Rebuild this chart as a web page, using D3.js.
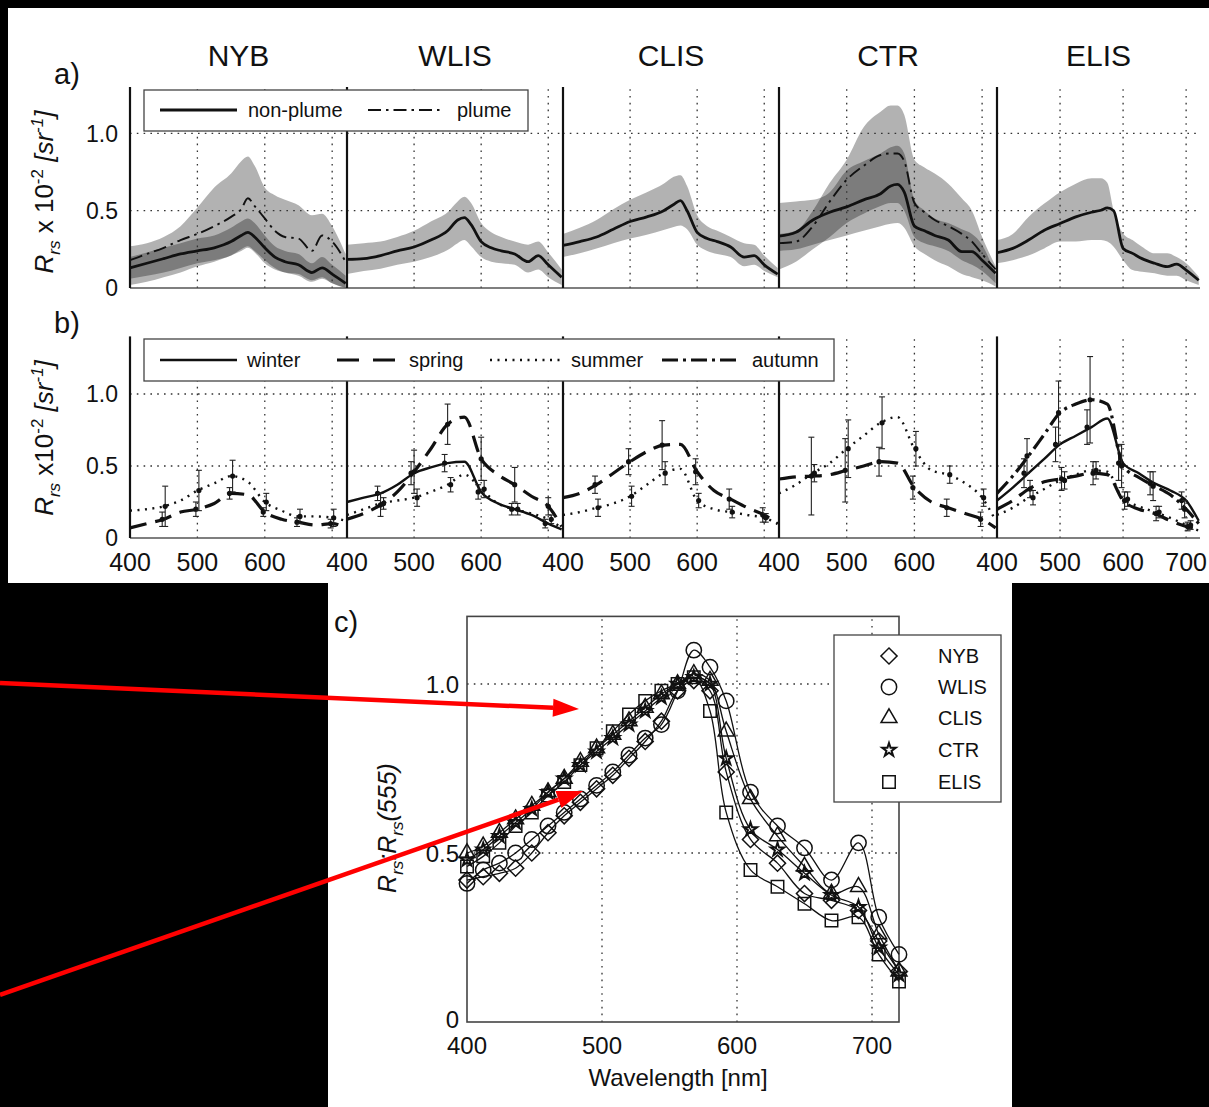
<!DOCTYPE html>
<html><head><meta charset="utf-8">
<script src="https://cdn.jsdelivr.net/npm/d3@7"></script>
<style>
html,body{margin:0;padding:0;background:#000;}
svg{display:block;}
text{font-family:"Liberation Sans",Arial,Helvetica,sans-serif;fill:#111;}
</style></head><body>
<svg id="fig" width="1209" height="1107"></svg>
<script>
// ---------- shared labels ----------
const stations = ["NYB", "WLIS", "CLIS", "CTR", "ELIS"];
const yTicksAB = [0, 0.5, 1.0];
const yTickLabelsAB = ["0", "0.5", "1.0"];
const xTicksB = [400, 500, 600, 700];

// ---------- a) mean Rrs (x10^-2 sr^-1) with spread bands ----------
const wlA = [400,425,450,475,500,525,550,565,575,585,600,615,630,650,670,685,700,720];
const nybMean    = [.13,.16,.19,.22,.24,.26,.30,.34,.36,.33,.26,.20,.17,.15,.10,.13,.09,.03];
const nybLo      = [.06,.08,.10,.13,.16,.18,.21,.25,.27,.24,.18,.13,.10,.08,.04,.06,.03,.00];
const nybHi      = [.20,.23,.26,.29,.32,.34,.39,.43,.45,.42,.34,.27,.24,.22,.16,.20,.15,.08];
const nybPlume   = [.18,.22,.26,.31,.35,.40,.46,.51,.58,.53,.45,.37,.33,.32,.24,.34,.30,.17];
const nybPlumeLo = [.02,.04,.07,.10,.14,.17,.21,.24,.26,.23,.16,.12,.10,.09,.05,.07,.03,.00];
const nybPlumeHi = [.27,.29,.33,.40,.52,.65,.74,.82,.85,.79,.65,.60,.57,.535,.47,.48,.40,.22];
const wlisMean   = [.185,.19,.21,.24,.265,.31,.37,.44,.455,.41,.30,.26,.24,.22,.17,.21,.15,.07];
const wlisLo     = [.09,.11,.125,.15,.17,.20,.245,.29,.31,.27,.20,.17,.16,.15,.10,.12,.07,.02];
const wlisHi     = [.28,.29,.30,.33,.37,.43,.49,.56,.59,.55,.42,.36,.33,.30,.28,.30,.23,.12];
const clisMean   = [.275,.30,.33,.38,.43,.46,.50,.54,.565,.50,.36,.32,.30,.265,.20,.21,.15,.09];
const clisLo     = [.20,.225,.255,.29,.32,.345,.375,.395,.405,.38,.28,.24,.22,.20,.14,.15,.11,.07];
const clisHi     = [.35,.39,.44,.51,.57,.62,.675,.72,.73,.66,.47,.40,.37,.33,.29,.28,.21,.13];
const ctrMean    = [.335,.36,.44,.49,.525,.57,.61,.66,.67,.62,.40,.37,.34,.31,.235,.235,.18,.095];
const ctrLo      = [.24,.25,.28,.31,.34,.37,.40,.415,.42,.39,.27,.22,.18,.14,.09,.07,.05,.01];
const ctrHi      = [.55,.56,.57,.62,.76,.82,.87,.91,.92,.87,.57,.50,.45,.42,.38,.35,.28,.08];
const ctrPlume   = [.29,.30,.40,.56,.70,.79,.86,.87,.87,.82,.55,.49,.44,.40,.35,.30,.22,.12];
const ctrPlumeLo = [.12,.17,.25,.33,.42,.48,.53,.55,.55,.50,.33,.29,.27,.24,.18,.15,.11,.03];
const ctrPlumeHi = [.35,.37,.50,.68,.83,1.04,1.14,1.18,1.18,1.12,.83,.78,.74,.675,.58,.50,.33,.14];
const elisMean   = [.228,.256,.31,.374,.417,.46,.49,.503,.518,.50,.256,.224,.19,.16,.138,.155,.116,.05];
const elisLo     = [.16,.18,.21,.256,.30,.30,.31,.31,.30,.267,.18,.116,.105,.095,.08,.08,.05,.02];
const elisHi     = [.31,.35,.46,.546,.62,.675,.71,.71,.68,.50,.353,.31,.267,.224,.224,.20,.16,.073];

// ---------- b) seasonal Rrs with error bars ----------
const wlB = [400,425,450,475,500,525,550,575,600,625,650,675,700,720];
const wlBars = [450,500,550,600,650,700];
const nybSpring   = [.07,.10,.13,.18,.20,.24,.31,.30,.18,.13,.11,.09,.10,.07];
const nybSummer   = [.19,.20,.22,.26,.33,.38,.43,.39,.25,.19,.15,.15,.14,.12];
const nybSpringSd = [.05,.05,.04,.03,.03,.03];
const nybSummerSd = [.14,.14,.11,.06,.05,.06];
const wlisWinter   = [.25,.28,.31,.37,.45,.49,.52,.53,.32,.24,.20,.16,.10,.06];
const wlisSpring   = [.13,.17,.23,.32,.46,.62,.79,.84,.55,.44,.37,.29,.22,.08];
const wlisSummer   = [.16,.20,.24,.26,.28,.32,.37,.44,.34,.24,.20,.17,.13,.07];
const wlisWinterSd = [.05,.08,.06,.05,.04,.03];
const wlisSpringSd = [.08,.15,.14,.15,.12,.06];
const wlisSummerSd = [.04,.06,.05,.06,.04,.03];
const clisSpring   = [.28,.31,.37,.45,.53,.60,.645,.65,.46,.33,.27,.21,.16,.10];
const clisSummer   = [.16,.18,.21,.24,.29,.37,.45,.48,.26,.20,.18,.16,.14,.10];
const clisSpringSd = [.06,.09,.17,.09,.07,.05];
const clisSummerSd = [.06,.07,.08,.05,.04,.03];
const ctrSpring    = [.41,.425,.43,.44,.47,.50,.53,.52,.35,.25,.21,.17,.13,.07];
const ctrSummer    = [.31,.37,.45,.52,.62,.71,.80,.84,.62,.47,.44,.38,.28,.12];
const ctrSpringSd  = [.27,.22,.10,.08,.06,.05];
const ctrSummerSd  = [.06,.20,.18,.12,.06,.06];
const elisWinter   = [.26,.35,.45,.55,.65,.71,.77,.83,.52,.45,.38,.33,.26,.12];
const elisSpring   = [.20,.26,.34,.39,.41,.43,.45,.44,.26,.20,.17,.12,.08,.06];
const elisSummer   = [.16,.21,.28,.34,.40,.44,.47,.46,.27,.22,.18,.14,.09,.05];
const elisAutumn   = [.31,.43,.57,.72,.87,.93,.96,.93,.50,.42,.36,.30,.20,.10];
const elisWinterSd = [.10,.12,.12,.12,.08,.06];
const elisSpringSd = [.06,.08,.08,.06,.05,.03];
const elisSummerSd = [.05,.06,.06,.05,.04,.03];
const elisAutumnSd = [.12,.22,.30,.15,.10,.06];

// ---------- c) Rrs normalised at 555 nm ----------
const wlC = [400,412,424,436,448,460,472,484,496,508,520,532,544,556,568,580,592,610,630,650,670,690,705,720];
const nybRatio  = [.42,.43,.44,.455,.50,.56,.61,.65,.69,.73,.78,.83,.89,.98,1.01,.98,.74,.54,.47,.38,.36,.33,.24,.15];
const wlisRatio = [.41,.45,.47,.50,.54,.58,.62,.66,.70,.74,.79,.84,.88,.98,1.10,1.05,.95,.68,.58,.515,.42,.53,.31,.20];
const clisRatio = [.50,.52,.56,.60,.64,.68,.72,.77,.81,.85,.89,.93,.97,1.00,1.03,1.01,.86,.66,.55,.46,.38,.40,.26,.15];
const ctrRatio  = [.48,.51,.55,.59,.63,.68,.72,.76,.80,.84,.88,.92,.96,1.00,1.02,1.00,.78,.57,.51,.44,.375,.34,.22,.14];
const elisRatio = [.46,.49,.53,.58,.62,.67,.71,.76,.81,.86,.91,.95,.98,1.00,1.02,.92,.62,.45,.40,.35,.30,.31,.20,.12];
const xTicksC = [400, 500, 600, 700];
const yTicksC = [0, 0.5, 1.0];
const yTickLabelsC = ["0", "0.5", "1.0"];

// ---------- tables built from the arrays ----------
const panelsA = [
  {mean: nybMean, lo: nybLo, hi: nybHi, plume: nybPlume, plo: nybPlumeLo, phi: nybPlumeHi},
  {mean: wlisMean, lo: wlisLo, hi: wlisHi},
  {mean: clisMean, lo: clisLo, hi: clisHi},
  {mean: ctrMean, lo: ctrLo, hi: ctrHi, plume: ctrPlume, plo: ctrPlumeLo, phi: ctrPlumeHi},
  {mean: elisMean, lo: elisLo, hi: elisHi}
];
const panelsB = [
  [{s: "spring", v: nybSpring, sd: nybSpringSd}, {s: "summer", v: nybSummer, sd: nybSummerSd}],
  [{s: "winter", v: wlisWinter, sd: wlisWinterSd}, {s: "spring", v: wlisSpring, sd: wlisSpringSd}, {s: "summer", v: wlisSummer, sd: wlisSummerSd}],
  [{s: "spring", v: clisSpring, sd: clisSpringSd}, {s: "summer", v: clisSummer, sd: clisSummerSd}],
  [{s: "spring", v: ctrSpring, sd: ctrSpringSd}, {s: "summer", v: ctrSummer, sd: ctrSummerSd}],
  [{s: "winter", v: elisWinter, sd: elisWinterSd}, {s: "autumn", v: elisAutumn, sd: elisAutumnSd},
   {s: "spring", v: elisSpring, sd: elisSpringSd}, {s: "summer", v: elisSummer, sd: elisSummerSd}]
];
const seriesC = [
  {name: "NYB", v: nybRatio, sym: "diamond"},
  {name: "WLIS", v: wlisRatio, sym: "circle"},
  {name: "CLIS", v: clisRatio, sym: "triangle"},
  {name: "CTR", v: ctrRatio, sym: "star"},
  {name: "ELIS", v: elisRatio, sym: "square"}
];

// ---------- drawing ----------
const svg = d3.select("#fig");
const ink = "#111";
const gridStyle = sel => sel.attr("stroke", "#333").attr("stroke-width", 1.3)
  .attr("stroke-dasharray", "1.6,5.2").attr("fill", "none");

// paper
svg.append("rect").attr("x", 8).attr("y", 8).attr("width", 1201).attr("height", 575).attr("fill", "#fff");
svg.append("rect").attr("x", 328).attr("y", 582).attr("width", 684).attr("height", 525).attr("fill", "#fff");

const edges = [130, 347, 563, 779, 997, 1200];
const xSub = i => d3.scaleLinear().domain([400, 722]).range([edges[i], edges[i + 1]]);
const yA = d3.scaleLinear().domain([0, 1.3]).range([288, 87]);
const yB = d3.scaleLinear().domain([0, 1.4]).range([538, 336.4]);

const seasonStyle = {
  winter: {w: 2.4, dash: null},
  spring: {w: 3.2, dash: "17,9"},
  summer: {w: 2.4, dash: "2,5.5"},
  autumn: {w: 3.2, dash: "16,5,3,5"}
};

function rotLabel(x, y, parts, size) {
  const t = svg.append("text").attr("transform", `translate(${x},${y}) rotate(-90)`)
    .attr("text-anchor", "middle").style("font-size", size + "px");
  parts.forEach(p => {
    const s = t.append("tspan").text(p.t);
    if (p.i) s.style("font-style", "italic");
    if (p.dy) s.attr("dy", p.dy);
    if (p.fs) s.style("font-size", p.fs + "px");
  });
}

function frameAB(y) {
  const g = svg.append("g");
  for (let i = 0; i < 5; i++) {
    const x = xSub(i);
    [0.5, 1.0].forEach(v => g.append("line").attr("x1", edges[i]).attr("x2", edges[i + 1])
      .attr("y1", y(v)).attr("y2", y(v)).call(gridStyle));
    [500, 600, 700].forEach(w => g.append("line").attr("x1", x(w)).attr("x2", x(w))
      .attr("y1", y.range()[0]).attr("y2", y.range()[1]).call(gridStyle));
  }
  return g;
}

function axesAB(y) {
  const top = y.range()[1], bot = y.range()[0];
  svg.append("line").attr("x1", edges[0]).attr("x2", edges[5]).attr("y1", bot).attr("y2", bot)
    .attr("stroke", "#555").attr("stroke-width", 1.6);
  for (let i = 0; i < 5; i++) {
    svg.append("line").attr("x1", edges[i]).attr("x2", edges[i]).attr("y1", top).attr("y2", bot)
      .attr("stroke", ink).attr("stroke-width", 2.2);
  }
  yTicksAB.forEach((v, k) => svg.append("text").attr("x", 118).attr("y", y(v)).attr("dy", "0.36em")
    .attr("text-anchor", "end").style("font-size", "23px").text(yTickLabelsAB[k]));
}

// ----- panel a -----
for (let i = 0; i < 5; i++) {
  const x = xSub(i), p = panelsA[i];
  const band = (lo, hi) => d3.area().x((d, k) => x(wlA[k])).y0((d, k) => yA(lo[k])).y1((d, k) => yA(hi[k]))
    .curve(d3.curveMonotoneX)(wlA);
  svg.append("path").attr("d", band(p.lo, p.hi)).attr("fill", "#000").attr("fill-opacity", 0.3);
  if (p.plume) svg.append("path").attr("d", band(p.plo, p.phi)).attr("fill", "#000").attr("fill-opacity", 0.3);
}
frameAB(yA);
for (let i = 0; i < 5; i++) {
  const x = xSub(i), p = panelsA[i];
  const line = arr => d3.line().x((d, k) => x(wlA[k])).y((d, k) => yA(arr[k])).curve(d3.curveMonotoneX)(wlA);
  svg.append("path").attr("d", line(p.mean)).attr("fill", "none").attr("stroke", ink).attr("stroke-width", 2.8);
  if (p.plume) svg.append("path").attr("d", line(p.plume)).attr("fill", "none").attr("stroke", ink)
    .attr("stroke-width", 1.9).attr("stroke-dasharray", "13,5,2.5,5");
  svg.append("text").attr("x", (edges[i] + edges[i + 1]) / 2).attr("y", 66).attr("text-anchor", "middle")
    .style("font-size", "30px").text(stations[i]);
}
axesAB(yA);
// legend a
svg.append("rect").attr("x", 144).attr("y", 90).attr("width", 384).attr("height", 41)
  .attr("fill", "#fff").attr("stroke", "#444").attr("stroke-width", 1.3);
svg.append("line").attr("x1", 160).attr("x2", 237).attr("y1", 110).attr("y2", 110).attr("stroke", ink).attr("stroke-width", 2.8);
svg.append("text").attr("x", 248).attr("y", 117).style("font-size", "20px").text("non-plume");
svg.append("line").attr("x1", 368).attr("x2", 443).attr("y1", 110).attr("y2", 110).attr("stroke", ink)
  .attr("stroke-width", 1.9).attr("stroke-dasharray", "13,5,2.5,5");
svg.append("text").attr("x", 457).attr("y", 117).style("font-size", "20px").text("plume");
svg.append("text").attr("x", 54).attr("y", 84).style("font-size", "29px").text("a)");
rotLabel(53, 192, [
  {t: "R", i: 1}, {t: "rs", i: 1, fs: 17, dy: 7}, {t: " x 10", dy: -7}, {t: "-2", fs: 17, dy: -10},
  {t: " [", dy: 10, i: 1}, {t: "sr", i: 1}, {t: "-1", fs: 17, dy: -10, i: 1}, {t: "]", dy: 10, i: 1}
], 26);

// ----- panel b -----
frameAB(yB);
for (let i = 0; i < 5; i++) {
  const x = xSub(i), ser = panelsB[i];
  ser.forEach((s, si) => {
    const st = seasonStyle[s.s];
    const path = svg.append("path")
      .attr("d", d3.line().x((d, k) => x(wlB[k])).y((d, k) => yB(s.v[k])).curve(d3.curveMonotoneX)(wlB))
      .attr("fill", "none").attr("stroke", ink).attr("stroke-width", st.w);
    if (st.dash) path.attr("stroke-dasharray", st.dash);
    const off = (si - (ser.length - 1) / 2) * 3;
    wlBars.forEach((w, k) => {
      const c = s.v[wlB.indexOf(w)], sd = s.sd[k], bx = x(w) + off;
      const g = svg.append("g").attr("stroke", "#222").attr("stroke-width", 1.1);
      g.append("line").attr("x1", bx).attr("x2", bx).attr("y1", yB(c - sd)).attr("y2", yB(c + sd));
      g.append("line").attr("x1", bx - 3).attr("x2", bx + 3).attr("y1", yB(c - sd)).attr("y2", yB(c - sd));
      g.append("line").attr("x1", bx - 3).attr("x2", bx + 3).attr("y1", yB(c + sd)).attr("y2", yB(c + sd));
      svg.append("circle").attr("cx", bx).attr("cy", yB(c)).attr("r", 2.6).attr("fill", ink);
    });
  });
  const ticks = i === 4 ? xTicksB : xTicksB.slice(0, 3);
  ticks.forEach(t => svg.append("text").attr("x", x(t)).attr("y", 571).attr("text-anchor", "middle")
    .style("font-size", "25px").text(t));
}
axesAB(yB);
// legend b
svg.append("rect").attr("x", 144).attr("y", 339).attr("width", 690).attr("height", 42)
  .attr("fill", "#fff").attr("stroke", "#444").attr("stroke-width", 1.3);
const legB = [
  {s: "winter", x1: 160, x2: 237, tx: 247},
  {s: "spring", x1: 337, x2: 400, tx: 409},
  {s: "summer", x1: 490, x2: 562, tx: 571},
  {s: "autumn", x1: 662, x2: 740, tx: 752}
];
legB.forEach(l => {
  const st = seasonStyle[l.s];
  const ln = svg.append("line").attr("x1", l.x1).attr("x2", l.x2).attr("y1", 360).attr("y2", 360)
    .attr("stroke", ink).attr("stroke-width", st.w);
  if (l.s === "spring") ln.attr("stroke-dasharray", "22,14");
  else if (st.dash) ln.attr("stroke-dasharray", st.dash);
  svg.append("text").attr("x", l.tx).attr("y", 367).style("font-size", "20px").text(l.s);
});
svg.append("text").attr("x", 54).attr("y", 333).style("font-size", "29px").text("b)");
rotLabel(53, 438, [
  {t: "R", i: 1}, {t: "rs", i: 1, fs: 17, dy: 7}, {t: " x10", dy: -7}, {t: "-2", fs: 17, dy: -10},
  {t: " [", dy: 10, i: 1}, {t: "sr", i: 1}, {t: "-1", fs: 17, dy: -10, i: 1}, {t: "]", dy: 10, i: 1}
], 26);

// ----- panel c -----
const xC = d3.scaleLinear().domain([400, 720]).range([467, 899]);
const yC = d3.scaleLinear().domain([0, 1.2]).range([1022, 616.4]);
[0.5, 1.0].forEach(v => svg.append("line").attr("x1", xC(400)).attr("x2", xC(720))
  .attr("y1", yC(v)).attr("y2", yC(v)).call(gridStyle));
[500, 600, 700].forEach(w => svg.append("line").attr("x1", xC(w)).attr("x2", xC(w))
  .attr("y1", yC(0)).attr("y2", yC(1.2)).call(gridStyle));
svg.append("rect").attr("x", xC(400)).attr("y", yC(1.2)).attr("width", xC(720) - xC(400))
  .attr("height", yC(0) - yC(1.2)).attr("fill", "none").attr("stroke", "#444").attr("stroke-width", 1.6);

const symPath = {
  diamond: d3.symbol(d3.symbolSquare, 130)(),
  circle: d3.symbol(d3.symbolCircle, 185)(),
  triangle: d3.symbol(d3.symbolTriangle, 110)(),
  star: d3.symbol(d3.symbolStar, 55)(),
  square: d3.symbol(d3.symbolSquare, 155)()
};
function marker(g, sym, x, y) {
  g.append("path").attr("d", symPath[sym])
    .attr("transform", `translate(${x},${y})` + (sym === "diamond" ? " rotate(45)" : ""))
    .attr("fill", "none").attr("stroke", ink).attr("stroke-width", sym === "star" ? 2 : 1.5);
}
seriesC.forEach(s => {
  svg.append("path")
    .attr("d", d3.line().x((d, k) => xC(wlC[k])).y((d, k) => yC(s.v[k])).curve(d3.curveCatmullRom)(wlC))
    .attr("fill", "none").attr("stroke", ink).attr("stroke-width", 1.3);
});
seriesC.forEach(s => {
  const g = svg.append("g");
  wlC.forEach((w, k) => marker(g, s.sym, xC(w), yC(s.v[k])));
});
xTicksC.forEach(t => svg.append("text").attr("x", xC(t)).attr("y", 1054).attr("text-anchor", "middle")
  .style("font-size", "24px").text(t));
yTicksC.forEach((v, k) => svg.append("text").attr("x", 459).attr("y", yC(v) - (v === 0 ? 3 : 0)).attr("dy", "0.36em")
  .attr("text-anchor", "end").style("font-size", "24px").text(yTickLabelsC[k]));
svg.append("text").attr("x", 678).attr("y", 1086).attr("text-anchor", "middle")
  .style("font-size", "24px").text("Wavelength [nm]");
svg.append("text").attr("x", 334).attr("y", 632).style("font-size", "29px").text("c)");
rotLabel(396, 828, [
  {t: "R", i: 1}, {t: "rs", i: 1, fs: 17, dy: 7}, {t: ":R", i: 1, dy: -7},
  {t: "rs", i: 1, fs: 17, dy: 7}, {t: "(555)", i: 1, dy: -7}
], 25);
// legend c
svg.append("rect").attr("x", 834).attr("y", 635).attr("width", 167).attr("height", 167)
  .attr("fill", "#fff").attr("stroke", "#444").attr("stroke-width", 1.3);
const legRows = [656, 687, 718, 750, 782];
seriesC.forEach((s, k) => {
  const g = svg.append("g");
  marker(g, s.sym, 889, legRows[k]);
  svg.append("text").attr("x", 938).attr("y", legRows[k]).attr("dy", "0.36em")
    .style("font-size", "20px").text(s.name);
});

// ----- pointer arrows -----
const arrows = [
  {x1: 0, y1: 683, x2: 579, y2: 709},
  {x1: 0, y1: 995, x2: 583, y2: 791}
];
arrows.forEach(a => {
  const ang = Math.atan2(a.y2 - a.y1, a.x2 - a.x1), L = 26, W = 9;
  const bx = a.x2 - L * Math.cos(ang), by = a.y2 - L * Math.sin(ang);
  svg.append("line").attr("x1", a.x1).attr("y1", a.y1).attr("x2", bx).attr("y2", by)
    .attr("stroke", "#f00").attr("stroke-width", 4.5);
  const px = -Math.sin(ang) * W, py = Math.cos(ang) * W;
  svg.append("path").attr("d", `M${a.x2},${a.y2}L${bx + px},${by + py}L${bx - px},${by - py}Z`).attr("fill", "#f00");
});
</script>
</body></html>
